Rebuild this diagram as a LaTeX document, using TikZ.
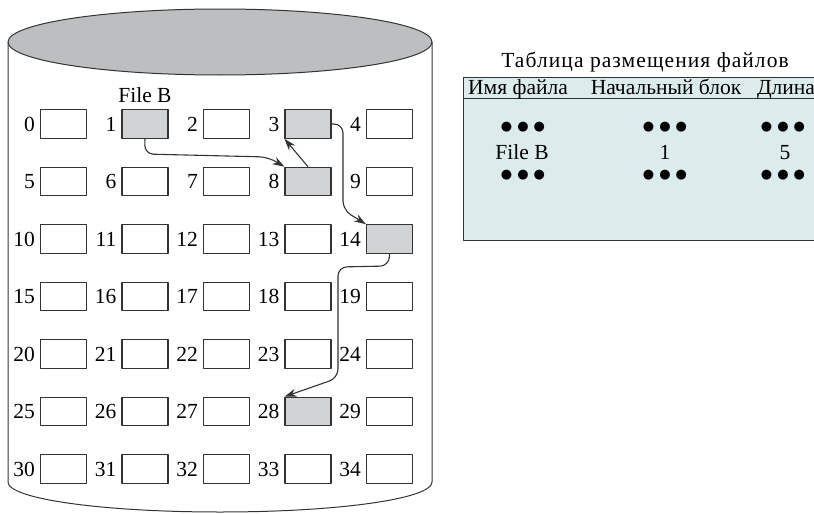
\documentclass[tikz,border=0pt]{standalone}
\usepackage{fontspec}
\setmainfont{Liberation Serif}
\newfontfamily\widefont[LetterSpace=5]{Liberation Serif}
\newfontfamily\dotfont{DejaVu Sans}
\usetikzlibrary{arrows.meta,positioning}
\definecolor{blockgray}{HTML}{D1D3D4}
\definecolor{topgray}{HTML}{BCBEC0}
\definecolor{tablefill}{HTML}{DCEBEB}
\definecolor{linegray}{HTML}{333333}

\begin{document}
\begin{tikzpicture}[x=1pt, y=-1pt, line join=round,
    block/.style={draw=linegray, line width=1.1pt, fill=white, minimum width=46pt, minimum height=28.5pt, inner sep=0pt},
    used/.style={block, fill=blockgray},
    txt/.style={font=\fontsize{21.5}{24}\selectfont, inner sep=0pt},
    num/.style={txt, anchor=east},
    head/.style={txt, anchor=base},
    dots/.style={font=\dotfont\fontsize{13}{15}\selectfont, inner sep=0pt},
    link/.style={draw=linegray, line width=1.1pt, rounded corners=9pt, -{Stealth[length=12pt,width=8pt]}}]
\useasboundingbox (0,0) rectangle (814,514);
% disk body and top
\draw[linegray, line width=1pt] (8,42) -- (8,482) .. controls (8,499) and (103,512) .. (220,512)
    .. controls (337,512) and (432,499) .. (432,482) -- (432,42);
\draw[linegray, line width=1pt, fill=topgray] (220,42) ellipse [x radius=212, y radius=33];
% blocks 0..34
\foreach \r in {0,...,6}
  \foreach \c in {0,...,4} {
    \pgfmathtruncatemacro{\n}{5*\r+\c}
    \pgfmathtruncatemacro{\isused}{or(or(\n==1,\n==3),or(or(\n==8,\n==14),\n==28))}
    \ifnum\isused=1 \def\st{used}\else\def\st{block}\fi
    \node[\st] (b\n) at (63.5+81.5*\c, 124+57.5*\r) {};
    \node[num] (l\n) at ([xshift=-5pt]b\n.west) {\n};
  }
\node[txt, above=6pt of b1] (fileb) {File B};
% chain of file B
\draw[link] (b1.south) -- (144.5,154) -- (268,157) -- (b8.north west);
\draw[link, rounded corners=0pt] (b8.north) -- (b3.south west);
\draw[link] (b3.east) -- (343,124) -- (343,210) -- (b14.north west);
\draw[link] (b14.south) -- (389,266) -- (338,267) -- (338,378) -- (b28.north west);
% allocation table (open to the right)
\node[head, font=\widefont\fontsize{21.5}{24}\selectfont] (title) at (645,67) {Таблица размещения файлов};
\fill[tablefill] (463,77) rectangle (814,240);
\draw[linegray, line width=1pt] (814,77) -- (463,77) -- (463,240) -- (814,240);
\draw[linegray, line width=1pt] (463,98) -- (814,98);
\node[head] (h1) at (518,94) {Имя файла};
\node[head] (h2) at (666,94) {Начальный блок};
\node[head] (h3) at (786,94) {Длина};
\node[dots] (d1a) at (523,127) {●\hspace{5pt}●\hspace{5pt}●};
\node[dots] (d2a) at (665,127) {●\hspace{5pt}●\hspace{5pt}●};
\node[dots] (d3a) at (783,127) {●\hspace{5pt}●\hspace{5pt}●};
\node[head] (name) at (522,159) {File B};
\node[head] (start) at (665,159) {1};
\node[head] (len) at (785,159) {5};
\node[dots] (d1b) at (523,175) {●\hspace{5pt}●\hspace{5pt}●};
\node[dots] (d2b) at (665,175) {●\hspace{5pt}●\hspace{5pt}●};
\node[dots] (d3b) at (783,175) {●\hspace{5pt}●\hspace{5pt}●};
\end{tikzpicture}
\end{document}
